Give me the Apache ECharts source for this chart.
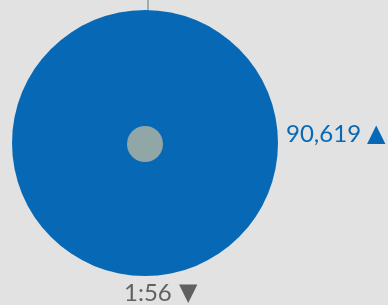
<!DOCTYPE html>
<html><head><meta charset="utf-8">
<script src="https://cdn.jsdelivr.net/npm/echarts@6/dist/echarts.min.js"></script>
<style>html,body{margin:0;padding:0;background:#e1e2e1;}#c{width:388px;height:305px;}</style>
</head><body><div id="c"></div>
<script>
var metricNames = ['Visits', 'Avg time'];
var metricValues = [90619, '1:56'];
var metricTrends = ['▲', '▼'];
var chart = echarts.init(document.getElementById('c'));
function fmt(n){return n.toLocaleString('en-US');}
chart.setOption({
  backgroundColor: '#e1e2e1',
  animation: false,
  series: [
    {type:'pie', center:[145,143], radius:[0,133], silent:true, label:{show:false},
     itemStyle:{color:'#0769b6'}, data:[{name:metricNames[0], value:metricValues[0]}]},
    {type:'pie', center:[145,144], radius:[0,18], silent:true, label:{show:false},
     itemStyle:{color:'#91a6a6'}, data:[{name:'core', value:1}]}
  ],
  graphic: [
    {type:'line', shape:{x1:148,y1:0,x2:148,y2:11}, style:{stroke:'#9aaeae', lineWidth:2}, z:-1},
    {type:'text', left:286, top:122, style:{text: fmt(metricValues[0]), fill:'#0769b6', font:'24px Lato'}},
    {type:'text', left:367, top:123, style:{text: metricTrends[0], fill:'#0769b6', font:'24px "DejaVu Sans"'}},
    {type:'text', left:124, top:281, style:{text: String(metricValues[1]), fill:'#5f6060', font:'24px Lato'}},
    {type:'text', left:179, top:282, style:{text: metricTrends[1], fill:'#5f6060', font:'24px "DejaVu Sans"'}}
  ]
});
</script></body></html>
